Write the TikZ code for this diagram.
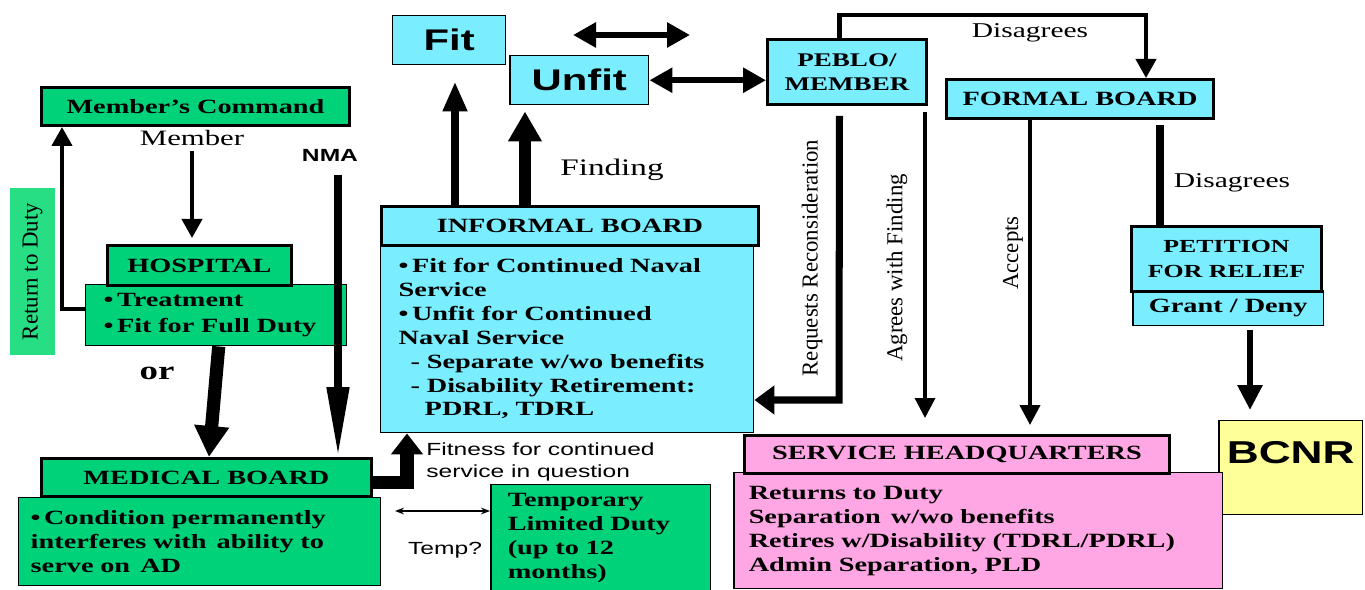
\documentclass[tikz,border=0pt]{standalone}
\usepackage{fontspec}
\setmainfont{Liberation Serif}[FakeStretch=1.4]
\newfontfamily\rotfont{Liberation Serif}
\newfontfamily\sansfont{Liberation Sans}[FakeStretch=1.4]
\usetikzlibrary{arrows.meta}

\definecolor{boxgreen}{RGB}{0,210,122}
\definecolor{dutygreen}{RGB}{40,222,132}
\definecolor{boxcyan}{RGB}{122,238,255}
\definecolor{boxpink}{RGB}{255,166,228}
\definecolor{boxyellow}{RGB}{255,255,153}

\tikzset{
  head/.style={draw, line width=1.7pt, anchor=north west, inner sep=0pt,
    font=\fontsize{11.5}{14}\selectfont\bfseries},
  body/.style={draw, line width=0.85pt, anchor=north west, inner ysep=0pt, align=left,
    font=\fontsize{11.5}{13.6}\selectfont\bfseries},
  bigtext/.style={draw, line width=0.85pt, anchor=north west, inner sep=0pt,
    font=\fontsize{17}{20}\selectfont\sansfont\bfseries},
  tag/.style={inner sep=0pt, font=\fontsize{12}{14}\selectfont},
  sidetag/.style={inner sep=0pt, rotate=90, font=\fontsize{13}{15}\selectfont\rotfont},
  smalltag/.style={inner sep=0pt, font=\fontsize{10}{12.5}\selectfont\sansfont},
  flow/.style={line width=2.3pt, -{Triangle[width=0.4cm,length=0.38cm]}},
  fatflow/.style={line width=7.5pt, -{Triangle[width=0.66cm,length=0.62cm]}},
  bothway/.style={line width=3.4pt, {Triangle[width=0.48cm,length=0.46cm]}-{Triangle[width=0.48cm,length=0.46cm]}}
}

\begin{document}
\begin{tikzpicture}[x=0.02cm, y=-0.02cm]
\useasboundingbox (0,0) rectangle (1365,590);

% left side: command, hospital, medical board
\node[head, fill=boxgreen, minimum width=6.16cm, minimum height=0.76cm] (cmd) at (40,86) {Member's Command};
\node[sidetag, fill=dutygreen, minimum width=3.34cm, minimum height=0.9cm] (rtd) at (32.5,271.5) {Return to Duty};
\node[body, fill=boxgreen, minimum width=5.22cm, minimum height=1.22cm, inner xsep=0.36cm, text width=4.5cm,
  font=\fontsize{11.5}{14.7}\selectfont\bfseries] (treat) at (85,284) {\textbullet\,Treatment\\\textbullet\,Fit for Full Duty};
\node[head, fill=boxgreen, minimum width=3.68cm, minimum height=0.8cm] (hosp) at (106,244) {HOSPITAL};
\node[tag, font=\fontsize{12.5}{14}\selectfont] (member) at (192,138) {Member};
\node[tag, font=\fontsize{10}{12}\selectfont\sansfont\bfseries] (nma) at (330,155) {NMA};
\node[tag, font=\fontsize{15}{16}\selectfont\bfseries] (ortxt) at (157,373) {or};
\node[body, fill=boxgreen, minimum width=7.24cm, minimum height=1.76cm, inner xsep=0.24cm, text width=6.76cm] (cond) at (18,497)
  {\textbullet\,Condition permanently\\interferes with\, ability to\\serve on\, AD};
\node[head, fill=boxgreen, minimum width=6.6cm, minimum height=0.76cm] (medb) at (40,457) {MEDICAL BOARD};
\node[body, fill=boxgreen, minimum width=4.4cm, minimum height=2.12cm, inner xsep=0.34cm, text width=3.72cm] (tld) at (490,484)
  {Temporary\\Limited Duty\\(up to 12\\months)};
\node[smalltag] (temp) at (445,550) {Temp?};
\node[smalltag, anchor=west, align=left] (fitq) at (426,462) {Fitness for continued\\service in question};

% middle: informal board and findings
\node[bigtext, fill=boxcyan, minimum width=2.26cm, minimum height=0.98cm] (fit) at (392,15) {Fit};
\node[bigtext, fill=boxcyan, minimum width=2.78cm, minimum height=0.98cm] (unfit) at (509,55) {Unfit};
\node[tag, font=\fontsize{13.5}{15}\selectfont] (finding) at (612,170) {Finding};
\node[body, fill=boxcyan, minimum width=7.46cm, minimum height=3.76cm, inner xsep=0.36cm, text width=6.74cm] (infb) at (380,244)
  {\textbullet\,Fit for Continued Naval\\Service\\\textbullet\,Unfit for Continued\\Naval Service\\
   \hspace*{0.24cm}- Separate w/wo benefits\\\hspace*{0.24cm}- Disability Retirement:\\\hspace*{0.52cm}PDRL, TDRL};
\node[head, fill=boxcyan, minimum width=7.54cm, minimum height=0.78cm] (inf) at (380,205) {INFORMAL BOARD};

% right side: PEBLO, formal board, petition, headquarters
\node[head, fill=boxcyan, minimum width=3.18cm, minimum height=1.3cm, align=center,
  font=\fontsize{11}{14}\selectfont\bfseries] (peblo) at (766,38) {PEBLO/\\MEMBER};
\node[head, fill=boxcyan, minimum width=5.34cm, minimum height=0.78cm] (formal) at (945,78) {FORMAL BOARD};
\node[tag] (dis1) at (1030,33) {Disagrees};
\node[tag] (dis2) at (1232,183) {Disagrees};
\node[body, fill=boxcyan, minimum width=3.82cm, minimum height=0.7cm, align=center] (grant) at (1132,290) {Grant / Deny};
\node[head, fill=boxcyan, minimum width=3.8cm, minimum height=1.3cm, align=center,
  font=\fontsize{10.5}{14.7}\selectfont\bfseries] (pet) at (1130,225) {PETITION\\FOR RELIEF};
\node[draw, line width=0.85pt, fill=boxyellow, anchor=north west, minimum width=2.88cm, minimum height=1.88cm,
  text depth=0.6cm, font=\fontsize{18}{22}\selectfont\sansfont\bfseries] (bcnr) at (1218,420) {BCNR};
\node[body, fill=boxpink, minimum width=9.78cm, minimum height=2.32cm, inner xsep=0.3cm, text width=9.18cm] (shqb) at (733,472)
  {Returns to Duty\\Separation\, w/wo benefits\\Retires w/Disability (TDRL/PDRL)\\Admin Separation, PLD};
\node[head, fill=boxpink, minimum width=8.5cm, minimum height=0.76cm] (shq) at (743,434) {SERVICE HEADQUARTERS};
\node[sidetag] (reqtxt) at (812,258) {Requests Reconsideration};
\node[sidetag] (agrtxt) at (897,268) {Agrees with Finding};
\node[sidetag] (acctxt) at (1013,253) {Accepts};

% free ends
\coordinate (nmatop) at (338,175);
\coordinate (swapl) at (573,35);
\coordinate (swapr) at (690,35);
\coordinate (templ) at (395,511);
\coordinate (dtop) at (1146,15);
\coordinate (reqbend) at (839,400);
\coordinate (agrtop) at (925,112);
\coordinate (dis2top) at (1160,125);
\coordinate (bcnrtop) at (1250,330);

% connectors
\draw[flow] (member.south) ++(0,-0.1cm) -- ([yshift=0.12cm]hosp.north -| member);
\draw[line width=4.5pt, -{Triangle[width=0.42cm,length=1.4cm]}] (nmatop) -- (nmatop |- medb.north);
\draw[flow] ([yshift=0.12cm]treat.west) -| ([xshift=0.44cm]cmd.south west);
\draw[fatflow] ([xshift=0.05cm]treat.south) -- ([xshift=0.05cm]medb.north);
\draw[line width=7.8pt, -{Triangle[width=0.62cm,length=0.42cm]}] ([yshift=-0.1cm]medb.east) -| ([xshift=0.54cm]infb.south west);
\draw[line width=0.8pt, {Stealth[length=0.18cm]}-{Stealth[length=0.18cm]}] (templ) -- (templ -| tld.west);
\draw[line width=4.5pt, -{Triangle[width=0.46cm,length=0.6cm]}] ([xshift=1.5cm]inf.north west) -- ([xshift=1.5cm, yshift=-0.32cm]inf.north west |- fit.south);
\draw[line width=6.8pt, -{Triangle[width=0.64cm,length=0.6cm]}] ([xshift=2.9cm]inf.north west) -- ([xshift=2.9cm, yshift=-0.12cm]inf.north west |- unfit.south);
\draw[bothway] (swapl) -- (swapr);
\draw[bothway] (unfit.east) -- (unfit.east -| peblo.west);
\draw[flow] ([xshift=-0.15cm]peblo.north) |- (dtop) -- (dtop |- formal.north);
\draw[line width=4pt, -{Triangle[width=0.56cm,length=0.4cm]}, line join=miter]
  ([xshift=-0.15cm, yshift=-0.2cm]peblo.south) -- (reqbend) -- (reqbend -| infb.east);
\draw[line width=1.9pt, -{Triangle[width=0.4cm,length=0.4cm]}] (agrtop) -- ([yshift=0.32cm]agrtop |- shq.north);
\draw[line width=2.3pt, -{Triangle[width=0.4cm,length=0.4cm]}] ([xshift=1.7cm]formal.south west) -- ([xshift=1.7cm, yshift=0.18cm]formal.south west |- shq.north);
\draw[line width=4.5pt] (dis2top) -- (dis2top |- pet.north);
\draw[line width=3.4pt, -{Triangle[width=0.48cm,length=0.5cm]}] (bcnrtop) -- ([yshift=0.2cm]bcnrtop |- bcnr.north);
\end{tikzpicture}
\end{document}
